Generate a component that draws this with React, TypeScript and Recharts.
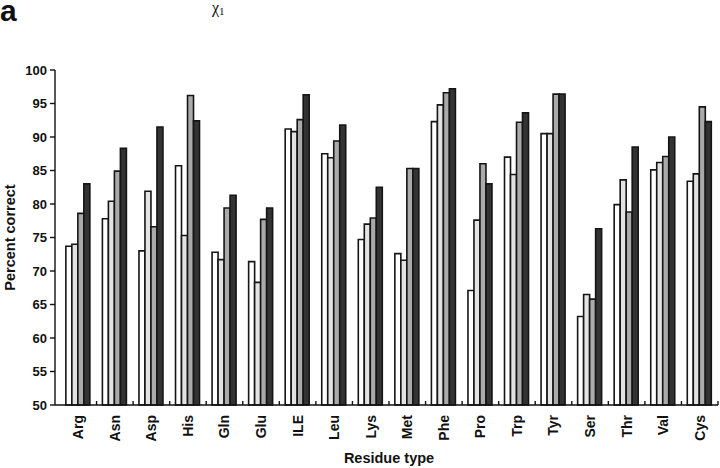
import { Bar, BarChart, XAxis, YAxis } from 'recharts'

const residues = ['Arg', 'Asn', 'Asp', 'His', 'Gln', 'Glu', 'ILE', 'Leu', 'Lys', 'Met', 'Phe', 'Pro', 'Trp', 'Tyr', 'Ser', 'Thr', 'Val', 'Cys']
const seriesA = [73.7, 77.8, 73.0, 85.7, 72.8, 71.4, 91.2, 87.5, 74.7, 72.6, 92.3, 67.1, 87.0, 90.5, 63.2, 79.9, 85.1, 83.4]
const seriesB = [74.0, 80.4, 81.9, 75.3, 71.7, 68.3, 90.8, 86.9, 77.0, 71.6, 94.8, 77.6, 84.4, 90.5, 66.5, 83.6, 86.2, 84.5]
const seriesC = [78.6, 84.9, 76.6, 96.2, 79.4, 77.7, 92.6, 89.4, 77.9, 85.3, 96.6, 86.0, 92.2, 96.4, 65.8, 78.8, 87.1, 94.5]
const seriesD = [83.0, 88.3, 91.5, 92.4, 81.3, 79.4, 96.3, 91.8, 82.5, 85.3, 97.2, 83.0, 93.6, 96.4, 76.3, 88.5, 90.0, 92.3]
const yTicks = [50, 55, 60, 65, 70, 75, 80, 85, 90, 95, 100]

const data = residues.map((name, i) => ({
  name,
  a: seriesA[i],
  b: seriesB[i],
  c: seriesC[i],
  d: seriesD[i],
}))

const W = 720
const H = 468
const PLOT_LEFT = 60
const PLOT_RIGHT = 718
const BAND = (PLOT_RIGHT - PLOT_LEFT) / residues.length
const FONT = '"Liberation Sans", Arial, sans-serif'

const ResidueTick = ({ x, y, payload }: any) => (
  <g>
    <line x1={x + BAND / 2} x2={x + BAND / 2} y1={y} y2={y - 4} stroke='#111' strokeWidth={1.4} />
    <text
      transform={`translate(${x},${y + 10}) rotate(-90)`}
      textAnchor='end'
      dy='0.35em'
      fontFamily={FONT}
      fontWeight='bold'
      fontSize={14}
      fill='#111'
    >
      {payload.value}
    </text>
  </g>
)

const barStyle = { stroke: '#151515', strokeWidth: 1.6, isAnimationActive: false }

export default function App() {
  return (
    <div style={{ position: 'absolute', left: 0, top: 0, width: W, height: H, background: '#fff' }}>
      <BarChart
        width={W}
        height={H}
        data={data}
        margin={{ top: 70, right: W - PLOT_RIGHT, bottom: 0, left: 0 }}
        barCategoryGap='16%'
        barGap={0}
      >
        <XAxis
          dataKey='name'
          interval={0}
          height={63}
          tickLine={false}
          tickSize={0}
          tickMargin={0}
          padding={{ left: 5, right: 0 }}
          axisLine={{ stroke: '#111', strokeWidth: 1.4 }}
          tick={<ResidueTick />}
        />
        <YAxis
          width={55}
          domain={[50, 100]}
          ticks={yTicks}
          interval={0}
          tickSize={5}
          tickMargin={3}
          axisLine={{ stroke: '#111', strokeWidth: 1.4 }}
          tickLine={{ stroke: '#111', strokeWidth: 1.4 }}
          tick={{ fill: '#111', fontFamily: FONT, fontWeight: 'bold', fontSize: 13 }}
        />
        <Bar dataKey='a' fill='#ffffff' {...barStyle} />
        <Bar dataKey='b' fill='#e3e3e3' {...barStyle} />
        <Bar dataKey='c' fill='#aaaaaa' {...barStyle} />
        <Bar dataKey='d' fill='#333333' {...barStyle} />
      </BarChart>
      <svg width={W} height={H} style={{ position: 'absolute', left: 0, top: 0, pointerEvents: 'none' }}>
        <text x={0} y={21} fontFamily={FONT} fontWeight='bold' fontSize={30} fill='#111'>a</text>
        <text x={212} y={13} fontFamily='"Liberation Serif", serif' fontSize={16} fill='#111'>
          χ<tspan fontSize={11} dy={2}>1</tspan>
        </text>
        <text
          transform='translate(9.5,237.5) rotate(-90)'
          textAnchor='middle'
          dy='0.35em'
          fontFamily={FONT}
          fontWeight='bold'
          fontSize={14.5}
          fill='#111'
        >
          Percent correct
        </text>
        <text x={389} y={463} textAnchor='middle' fontFamily={FONT} fontWeight='bold' fontSize={14.5} fill='#111'>
          Residue type
        </text>
      </svg>
    </div>
  )
}
